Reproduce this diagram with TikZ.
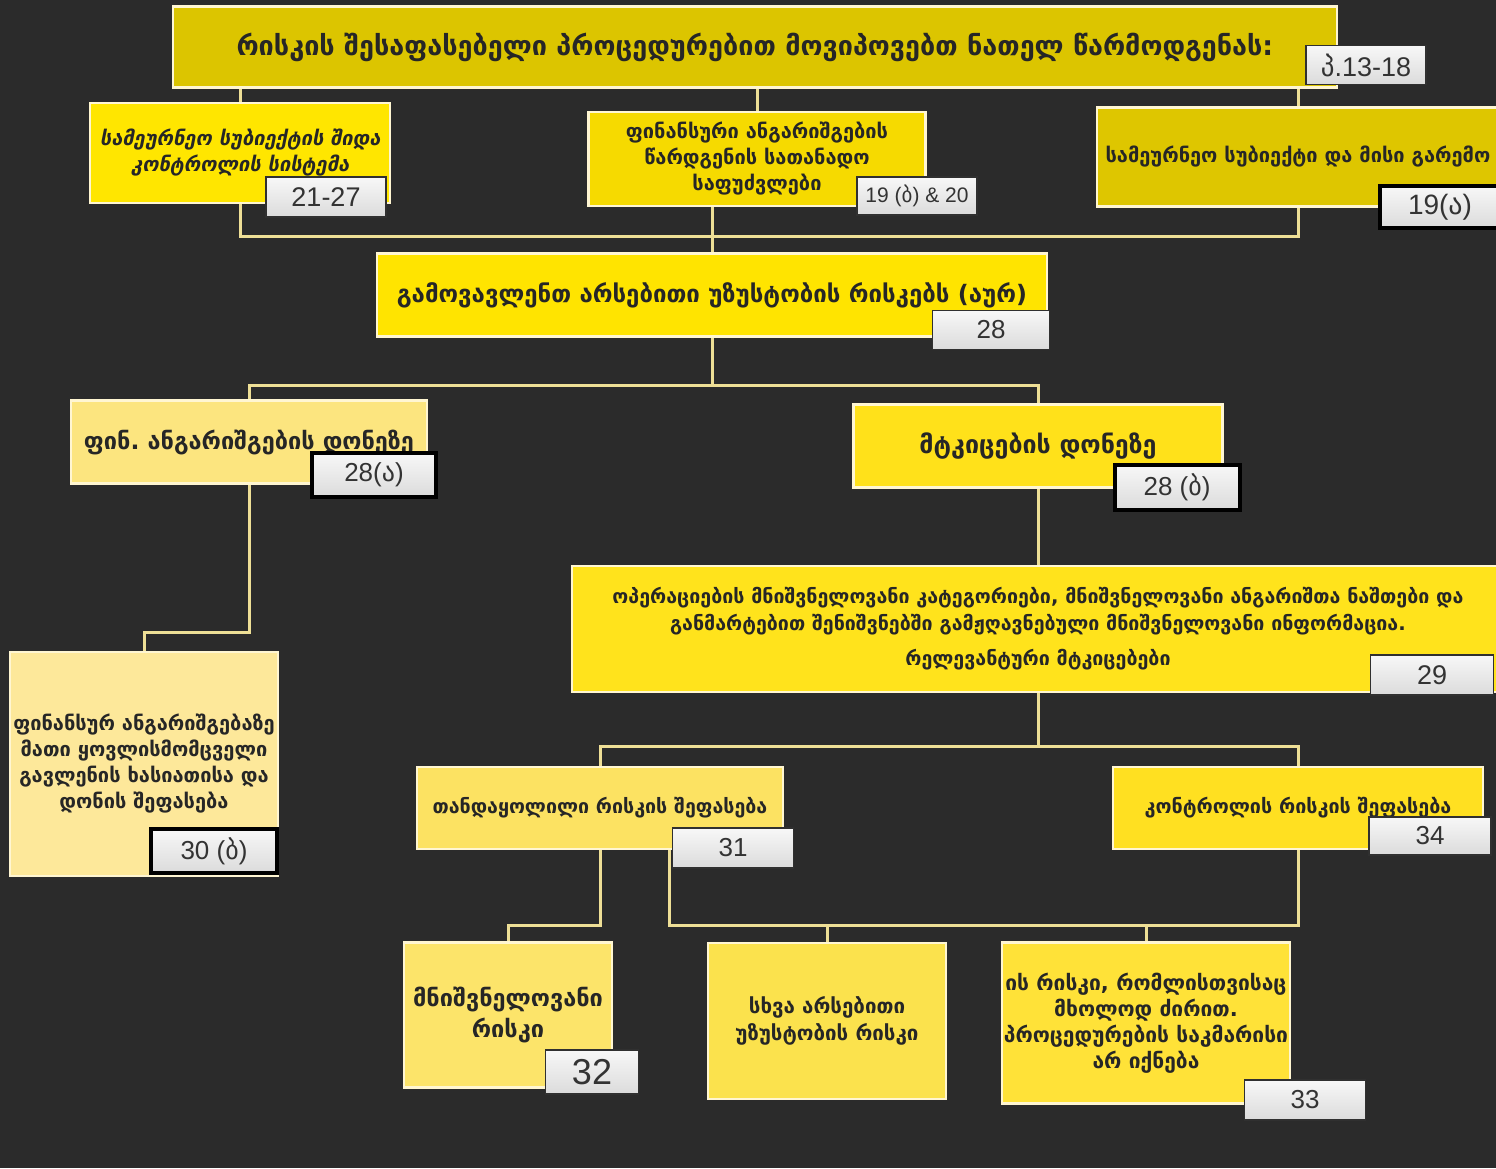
\documentclass[tikz,border=0pt]{standalone}
\usepackage{fontspec}
\newfontfamily\geo{DejaVu Sans}
\newfontfamily\geoit[FakeSlant=0.2,BoldFont={DejaVu Sans Bold}]{DejaVu Sans}
\newfontfamily\tagf{Liberation Sans}
\definecolor{bgdark}{HTML}{2B2B2B}
\definecolor{boxline}{HTML}{FFF6D2}
\definecolor{linkcol}{HTML}{EEDF96}
\definecolor{tagline}{HTML}{303030}
\definecolor{cT}{HTML}{DCC500}
\definecolor{cA}{HTML}{FFE600}
\definecolor{cB}{HTML}{F6DA00}
\definecolor{cC}{HTML}{DEC600}
\definecolor{cD}{HTML}{FFE400}
\definecolor{cE}{HTML}{FCE57F}
\definecolor{cF}{HTML}{FFE11A}
\definecolor{cG}{HTML}{FDE89A}
\definecolor{cH}{HTML}{FFE31C}
\definecolor{cI}{HTML}{FCE262}
\definecolor{cJ}{HTML}{FFE021}
\definecolor{cK}{HTML}{FCE46A}
\definecolor{cL}{HTML}{FBE24D}
\definecolor{cM}{HTML}{FFE238}
\frenchspacing

\begin{document}
\begin{tikzpicture}[x=1pt,y=-1pt,
  box/.style={draw=boxline,line width=2.5pt,inner sep=2pt,align=center,text=black!85},
  fsz/.style 2 args={font=\geo\bfseries\fontsize{#1}{#2}\selectfont},
  tagbox/.style={draw=tagline,line width=1.2pt,top color=white!97!black,bottom color=white!86!black,inner sep=0pt,text=black!80},
  tagblk/.style={tagbox,draw=black,line width=4pt},
  tsz/.style={font=\tagf\fontsize{#1}{#1}\selectfont},
  link/.style={draw=linkcol,line width=3pt}]

%background
\useasboundingbox (0,0) rectangle (1496,1168);
\fill[bgdark] (0,0) rectangle (1496,1168);

%top
\node[box,fill=cT,minimum width=1164,minimum height=81,fsz={27}{30}] (T) at (755,47) {რისკის შესაფასებელი პროცედურებით მოვიპოვებთ ნათელ წარმოდგენას:};

%row 2
\node[box,fill=cA,minimum width=300,minimum height=100,font=\geoit\bfseries\fontsize{20}{26}\selectfont] (A) at (240,153) {სამეურნეო სუბიექტის შიდა\\კონტროლის სისტემა};
\node[box,fill=cB,minimum width=337,minimum height=94,fsz={20}{26}] (B) at (757,159) {ფინანსური ანგარიშგების\\წარდგენის სათანადო\\საფუძვლები};
\node[box,fill=cC,minimum width=402,minimum height=99,fsz={20}{24}] (C) at (1298,157) {სამეურნეო სუბიექტი და მისი გარემო};

%risks
\node[box,fill=cD,minimum width=670,minimum height=83,fsz={24}{28}] (D) at (712,295) {გამოვავლენთ არსებითი უზუსტობის რისკებს (აურ)};

%two levels
\node[box,fill=cE,minimum width=356,minimum height=83,fsz={23.5}{28}] (E) at (249,442) {ფინ. ანგარიშგების დონეზე};
\node[box,fill=cF,minimum width=369,minimum height=83,fsz={25}{28}] (F) at (1038,446) {მტკიცების დონეზე};

%left branch
\node[box,fill=cG,minimum width=268,minimum height=224,fsz={20}{26}] (G) at (144,764) {ფინანსურ ანგარიშგებაზე\\მათი ყოვლისმომცველი\\გავლენის ხასიათისა და\\დონის შეფასება};

%right branch
\node[box,fill=cH,minimum width=932,minimum height=126,fsz={19.6}{27}] (H) at (1038,629) {ოპერაციების მნიშვნელოვანი კატეგორიები, მნიშვნელოვანი ანგარიშთა ნაშთები და\\განმარტებით შენიშვნებში გამჟღავნებული მნიშვნელოვანი ინფორმაცია.\\[8pt]რელევანტური მტკიცებები};
\node[box,fill=cI,minimum width=366,minimum height=82,fsz={19.6}{24}] (I) at (600,808) {თანდაყოლილი რისკის შეფასება};
\node[box,fill=cJ,minimum width=370,minimum height=82,fsz={19.7}{24}] (J) at (1298,808) {კონტროლის რისკის შეფასება};

%bottom row
\node[box,fill=cK,minimum width=208,minimum height=145,fsz={23.5}{31}] (K) at (508,1015) {მნიშვნელოვანი\\რისკი};
\node[box,fill=cL,minimum width=238,minimum height=156,fsz={20.5}{27}] (L) at (827,1021) {სხვა არსებითი\\უზუსტობის რისკი};
\node[box,fill=cM,minimum width=288,minimum height=161,fsz={21}{26}] (M) at (1146,1023) {ის რისკი, რომლისთვისაც\\მხოლოდ ძირით.\\პროცედურების საკმარისი\\არ იქნება};

%connectors
\draw[link] (A.north) -- (A.north |- T.south);
\draw[link] (B.north) -- (B.north |- T.south);
\draw[link] (C.north) -- (C.north |- T.south);
\coordinate (r2) at (0,236);
\draw[link] (A.south) -- (A.south |- r2) -- (C.south |- r2) -- (C.south);
\draw[link] (D.north) -- (D.north |- B.south);
\coordinate (r3) at (0,385);
\draw[link] (D.south) -- (D.south |- r3);
\draw[link] (E.north) -- (E.north |- r3) -- (F.north |- r3) -- (F.north);
\coordinate (r4) at (0,632);
\draw[link] (E.south) -- (E.south |- r4) -- (G.north |- r4) -- (G.north);
\draw[link] (F.south) -- (H.north);
\coordinate (r5) at (0,746);
\draw[link] (H.south) -- (H.south |- r5);
\draw[link] (I.north) -- (I.north |- r5) -- (J.north |- r5) -- (J.north);
\coordinate (r6) at (0,925);
\draw[link] (I.south) -- (I.south |- r6) -- (K.north |- r6) -- (K.north);
\draw[link] ([xshift=69]I.south) -- ([xshift=69]I.south |- r6) -| (J.south);
\draw[link] (L.north) -- (L.north |- r6);
\draw[link] (M.north) -- (M.north |- r6);

%paragraph tags
\node[tagbox,minimum width=120,minimum height=39,tsz=27] (tT) at (1366,65) {{\geo პ}.13-18};
\node[tagbox,minimum width=120,minimum height=40,tsz=27] (tA) at (326,197) {21-27};
\node[tagbox,minimum width=120,minimum height=38,tsz=21] (tB) at (917,196) {19 ({\geo ბ}) \& 20};
\node[tagblk,minimum width=120,minimum height=42,tsz=28] (tC) at (1440,207) {19({\geo ა})};
\node[tagbox,minimum width=117,minimum height=39,tsz=26] (tD) at (991,330) {28};
\node[tagblk,minimum width=124,minimum height=44,tsz=26] (tE) at (374,475) {28({\geo ა})};
\node[tagblk,minimum width=125,minimum height=45,tsz=26] (tF) at (1177,487) {28 ({\geo ბ})};
\node[tagblk,minimum width=126,minimum height=44,tsz=26] (tG) at (214,851) {30 ({\geo ბ})};
\node[tagbox,minimum width=123,minimum height=40,tsz=27] (tH) at (1432,675) {29};
\node[tagbox,minimum width=121,minimum height=40,tsz=26] (tI) at (733,848) {31};
\node[tagbox,minimum width=122,minimum height=38,tsz=26] (tJ) at (1430,836) {34};
\node[tagbox,minimum width=93,minimum height=44,tsz=36] (tK) at (592,1072) {32};
\node[tagbox,minimum width=121,minimum height=40,tsz=26] (tM) at (1305,1100) {33};
\end{tikzpicture}
\end{document}
